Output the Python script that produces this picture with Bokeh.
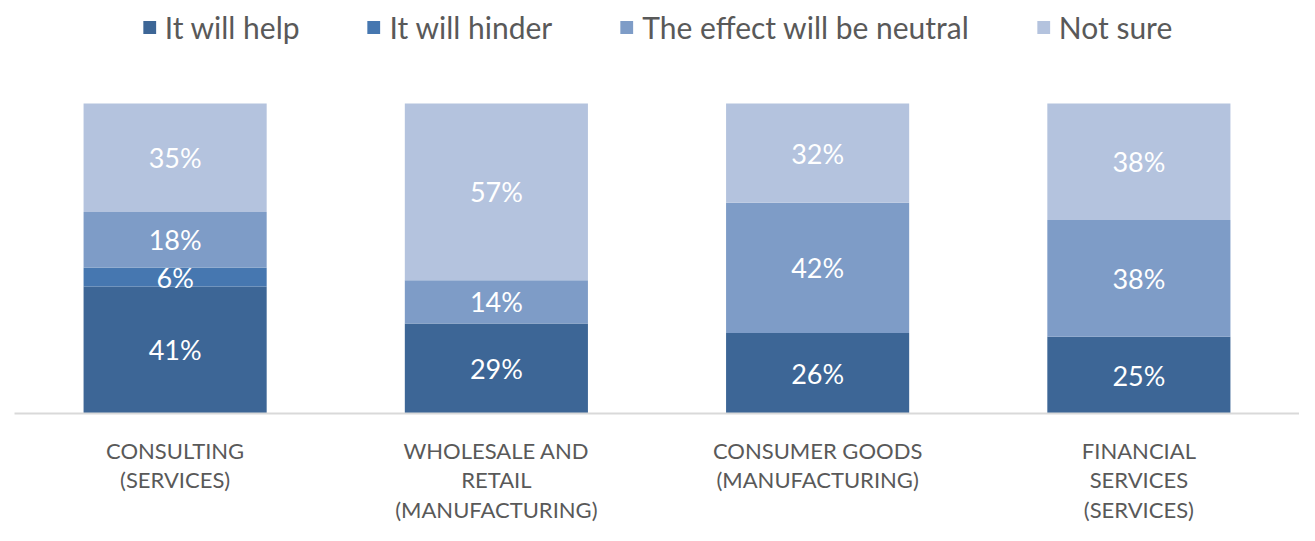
from bokeh.plotting import figure
from bokeh.models import ColumnDataSource, FactorRange, Range1d, Legend, LegendItem
from bokeh.core.properties import value
from bokeh.embed import file_html
from bokeh.resources import INLINE

# ---- data ----
categories = [
    "CONSULTING\n(SERVICES)",
    "WHOLESALE AND\nRETAIL\n(MANUFACTURING)",
    "CONSUMER GOODS\n(MANUFACTURING)",
    "FINANCIAL\nSERVICES\n(SERVICES)",
]
series_names = ["It will help", "It will hinder", "The effect will be neutral", "Not sure"]
help_vals = [41, 29, 26, 25]
hinder_vals = [6, 0, 0, 0]
neutral_vals = [18, 14, 42, 38]
notsure_vals = [35, 57, 32, 38]
colors = ["#3D6696", "#4677B0", "#7E9CC7", "#B4C3DE"]

series = [help_vals, hinder_vals, neutral_vals, notsure_vals]
keys = ["help", "hinder", "neutral", "notsure"]

# 100% stacked: share of each category total
totals = [sum(s[i] for s in series) for i in range(len(categories))]
data = {"cat": categories}
for k, s in zip(keys, series):
    data[k] = [v / t for v, t in zip(s, totals)]
src = ColumnDataSource(data)

# label positions (segment middles)
lx, ly, lt = [], [], []
for i, c in enumerate(categories):
    base = 0.0
    for k, s in zip(keys, series):
        frac = data[k][i]
        if s[i] > 0:
            lx.append(c)
            ly.append(base + frac / 2)
            lt.append(f"{s[i]}%")
        base += frac
lsrc = ColumnDataSource(dict(x=lx, y=ly, t=lt))

p = figure(
    x_range=FactorRange(*categories),
    y_range=Range1d(0, 1.303),
    width=1299, height=525,
    output_backend="svg", toolbar_location=None,
    min_border_left=14, min_border_right=0,
    min_border_top=9, min_border_bottom=112,
)
p.outline_line_color = None
p.xgrid.grid_line_color = None
p.ygrid.grid_line_color = None
p.yaxis.visible = False

renderers = p.vbar_stack(keys, x="cat", width=0.57, color=colors, line_color=None, source=src)

p.text(x="x", y="y", text="t", source=lsrc, text_align="center", text_baseline="middle",
       text_color="white", text_font=value("Lato"), text_font_size="27px")

ax = p.xaxis[0]
ax.axis_line_color = "#D9D9D9"
ax.axis_line_width = 2
ax.major_tick_line_color = None
ax.minor_tick_line_color = None
ax.major_tick_in = 0
ax.major_tick_out = 0
ax.major_label_standoff = 23
ax.major_label_text_font = "Lato"
ax.major_label_text_font_size = "22px"
ax.major_label_text_color = "#595959"
ax.major_label_text_line_height = 1.1

legend = Legend(
    items=[LegendItem(label=n, renderers=[r]) for n, r in zip(series_names, renderers)],
    orientation="horizontal", location="top_center",
    label_text_font="Lato", label_text_font_size="30px", label_text_color="#595959",
    glyph_width=16, glyph_height=16, label_standoff=8, spacing=66,
    background_fill_alpha=0, border_line_color=None, margin=0, padding=2,
)
p.add_layout(legend)

open("out.html", "w").write(file_html(p, INLINE))
